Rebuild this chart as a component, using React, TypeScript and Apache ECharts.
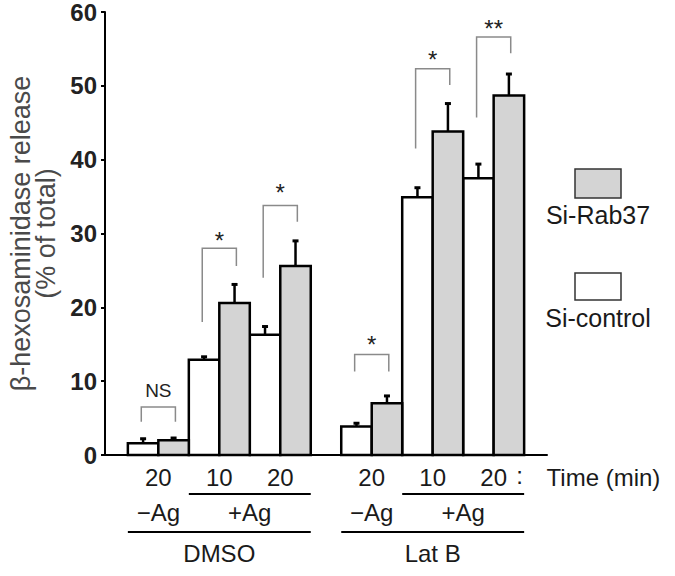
import React, { useEffect, useRef } from "react";
import * as echarts from "echarts";

// ---- data ----
const treatments = ["DMSO", "Lat B"];
const agLabels = ["−Ag", "+Ag"];
const times = ["20", "10", "20"];
const seriesNames = ["Si-control", "Si-Rab37"];
const siControl = [1.6, 12.9, 16.3, 3.85, 34.9, 37.5];
const siControlSD = [0.6, 0.4, 1.1, 0.45, 1.3, 1.9];
const siRab37 = [2.0, 20.6, 25.6, 7.0, 43.8, 48.7];
const siRab37SD = [0.3, 2.5, 3.4, 1.0, 3.8, 2.9];
const sigLabels = ["NS", "*", "*", "*", "*", "**"];
// bracket geometry in data units (y values)
const bracketTop = [6.5, 28.0, 33.8, 13.6, 52.3, 56.6];
const bracketLeftEnd = [4.5, 18.0, 24.0, 11.3, 41.5, 45.7];
const bracketRightEnd = [4.5, 25.6, 31.6, 11.3, 50.1, 54.4];
const sigLabelY = [8.8, 29.7, 36.2, 15.6, 54.3, 58.5];
const yTicks = [0, 10, 20, 30, 40, 50, 60];

const FONT = "Liberation Sans, Arial, Helvetica, sans-serif";
const GRAY = "#d4d4d4";

// layout helpers (slot units on hidden value x-axis)
const pairCenter = (i: number) => {
  const g = Math.floor(i / 3);
  const c = i % 3;
  return 1.75 + g * 7 + c * 2;
};

export default function App() {
  const ref = useRef<HTMLDivElement>(null);
  useEffect(() => {
    if (!ref.current) return;
    const chart = echarts.init(ref.current, undefined, { renderer: "svg" });

    const barRender = (fill: string, side: number) => (params: any, api: any) => {
      const c = api.value(0) as number;
      const v = api.value(1) as number;
      const e = api.value(2) as number;
      const p0 = api.coord([c + side, 0]);
      const p1 = api.coord([c + side + 1, v]);
      const pe = api.coord([c + side + 0.5, v + e]);
      return {
        type: "group",
        children: [
          {
            type: "line",
            shape: { x1: pe[0], y1: p1[1], x2: pe[0], y2: pe[1] },
            style: { stroke: "#000", lineWidth: 2.5 },
          },
          {
            type: "line",
            shape: { x1: pe[0] - 3, y1: pe[1], x2: pe[0] + 3, y2: pe[1] },
            style: { stroke: "#000", lineWidth: 3 },
          },
          {
            type: "rect",
            shape: { x: p0[0], y: p1[1], width: p1[0] - p0[0], height: p0[1] - p1[1] },
            style: { fill, stroke: "#000", lineWidth: 2.5 },
          },
        ],
      };
    };

    const controlData = siControl.map((v, i) => [pairCenter(i), v, siControlSD[i]]);
    const rabData = siRab37.map((v, i) => [pairCenter(i), v, siRab37SD[i]]);
    const bracketData = sigLabels.map((_, i) => [
      pairCenter(i),
      bracketTop[i],
      bracketLeftEnd[i],
      bracketRightEnd[i],
      sigLabelY[i],
    ]);
    const groupData = treatments.map((_, g) => [g]);

    const option: any = {
      animation: false,
      grid: { left: 105, right: 128, top: 12, bottom: 121, containLabel: false, outerBoundsMode: "none" },
      xAxis: {
        type: "value",
        min: 0,
        max: 14.5,
        axisLine: { show: true, lineStyle: { color: "#000", width: 2 } },
        axisTick: { show: false },
        axisLabel: { show: false },
        splitLine: { show: false },
      },
      yAxis: {
        type: "value",
        min: yTicks[0],
        max: yTicks[yTicks.length - 1],
        interval: 10,
        name: "β-hexosaminidase release\n(% of total)",
        nameLocation: "middle",
        nameRotate: 90,
        nameGap: 47,
        nameTextStyle: { fontFamily: FONT, fontSize: 27, lineHeight: 25, color: "#4a4a4a" },
        axisLine: { show: true, lineStyle: { color: "#000", width: 2 } },
        axisTick: { show: true, inside: false, length: 4, lineStyle: { color: "#000", width: 2 } },
        axisLabel: { fontFamily: FONT, fontSize: 24, fontWeight: "bold", color: "#222", margin: 8 },
        splitLine: { show: false },
      },
      series: [
        {
          name: seriesNames[0],
          type: "custom",
          renderItem: barRender("#fff", -1),
          data: controlData,
          z: 3,
        },
        {
          name: seriesNames[1],
          type: "custom",
          renderItem: barRender(GRAY, 0),
          data: rabData,
          z: 3,
        },
        {
          name: "significance",
          type: "custom",
          z: 2,
          data: bracketData,
          renderItem: (params: any, api: any) => {
            const i = params.dataIndex;
            const c = api.value(0) as number;
            const top = api.coord([c, api.value(1)]);
            const le = api.coord([c, api.value(2)]);
            const re = api.coord([c, api.value(3)]);
            const lab = api.coord([c, api.value(4)]);
            const l = api.coord([c - 0.56, 0])[0];
            const r = api.coord([c + 0.56, 0])[0];
            const label = sigLabels[i];
            const star = label.indexOf("*") >= 0;
            return {
              type: "group",
              children: [
                {
                  type: "polyline",
                  shape: { points: [[l, le[1]], [l, top[1]], [r, top[1]], [r, re[1]]] },
                  style: { stroke: "#8a8a8a", lineWidth: 1.5, fill: "none" },
                },
                {
                  type: "text",
                  style: {
                    text: label,
                    x: lab[0],
                    y: lab[1] + (star ? 5 : 0),
                    align: "center",
                    verticalAlign: "middle",
                    fontFamily: FONT,
                    fontSize: star ? 24 : 19,
                    fill: "#222",
                  },
                },
              ],
            };
          },
        },
        {
          name: "groups",
          type: "custom",
          z: 2,
          data: groupData,
          renderItem: (params: any, api: any) => {
            const g = params.dataIndex;
            const i0 = g * 3;
            const base = api.coord([0, 0])[1];
            const children: any[] = [];
            const txt = (text: string, x: number, y: number, align = "center") => ({
              type: "text",
              style: {
                text,
                x,
                y,
                align,
                verticalAlign: "middle",
                fontFamily: FONT,
                fontSize: 24,
                fill: "#1a1a1a",
              },
            });
            for (let c = 0; c < 3; c++) {
              const x = api.coord([pairCenter(i0 + c), 0])[0];
              children.push(txt(times[c], x, base + 22));
            }
            const x1a = api.coord([pairCenter(i0 + 1) - 1, 0])[0];
            const x1b = api.coord([pairCenter(i0 + 2) + 1, 0])[0];
            const x2a = api.coord([pairCenter(i0) - 1, 0])[0];
            children.push({
              type: "line",
              shape: { x1: x1a, y1: base + 39, x2: x1b, y2: base + 39 },
              style: { stroke: "#000", lineWidth: 2 },
            });
            children.push(txt(agLabels[0], api.coord([pairCenter(i0), 0])[0], base + 57));
            children.push(
              txt(agLabels[1], api.coord([(pairCenter(i0 + 1) + pairCenter(i0 + 2)) / 2, 0])[0], base + 57)
            );
            children.push({
              type: "line",
              shape: { x1: x2a, y1: base + 77, x2: x1b, y2: base + 77 },
              style: { stroke: "#000", lineWidth: 2 },
            });
            children.push(txt(treatments[g], api.coord([pairCenter(i0 + 1), 0])[0], base + 98));
            if (g === treatments.length - 1) {
              const xc = api.coord([pairCenter(i0 + 2) + 0.85, 0])[0];
              children.push(txt(":", xc, base + 20));
              children.push(txt("Time (min)", xc + 27, base + 22, "left"));
            }
            return { type: "group", children };
          },
        },
      ],
      graphic: [
        {
          type: "rect",
          shape: { x: 575, y: 169, width: 46, height: 29 },
          style: { fill: GRAY, stroke: "#333", lineWidth: 1.5 },
        },
        {
          type: "text",
          style: {
            text: seriesNames[1],
            x: 598,
            y: 215,
            align: "center",
            verticalAlign: "middle",
            fontFamily: FONT,
            fontSize: 25,
            fill: "#1a1a1a",
          },
        },
        {
          type: "rect",
          shape: { x: 575, y: 273, width: 46, height: 27 },
          style: { fill: "#fff", stroke: "#333", lineWidth: 1.5 },
        },
        {
          type: "text",
          style: {
            text: seriesNames[0],
            x: 598,
            y: 318,
            align: "center",
            verticalAlign: "middle",
            fontFamily: FONT,
            fontSize: 25,
            fill: "#1a1a1a",
          },
        },
      ],
    };
    chart.setOption(option);
    return () => chart.dispose();
  }, []);
  return (
    <div
      ref={ref}
      style={{ position: "fixed", left: 0, top: 0, width: 675, height: 576, background: "#fff" }}
    />
  );
}
